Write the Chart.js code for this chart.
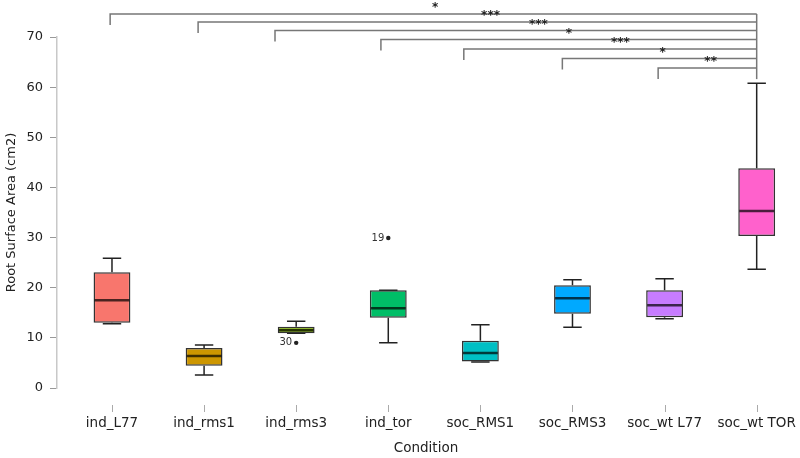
<!DOCTYPE html>
<html>
<head>
<meta charset="utf-8">
<script src="https://cdn.jsdelivr.net/npm/chart.js@4"></script>
<style>
  body { margin: 0; background: #fff; }
  #wrap { width: 800px; height: 458px; position: relative; }
</style>
</head>
<body>
<div id="wrap"><canvas id="rootChart"></canvas></div>
<script>
// Root surface area per condition (box plot values)
const categories = ["ind_L77", "ind_rms1", "ind_rms3", "ind_tor", "soc_RMS1", "soc_RMS3", "soc_wt L77", "soc_wt TOR"];
const whiskerLow = [12.8, 2.6, 10.9, 9.0, 5.2, 12.1, 13.8, 23.7];
const q1 = [13.0, 4.45, 10.9, 14.0, 5.3, 14.8, 14.1, 30.3];
const medians = [17.5, 6.4, 11.5, 15.9, 7.0, 17.9, 16.5, 35.3];
const q3 = [23.1, 8.0, 12.2, 19.5, 9.4, 20.5, 19.5, 43.8];
const whiskerHigh = [25.9, 8.6, 13.3, 19.5, 12.6, 21.6, 21.8, 60.8];
const boxColors = ["#F8766D", "#CD9600", "#7CAE00", "#00BE67", "#00BFC4", "#00A9FF", "#C77CFF", "#FF61CC"];

// Outliers
const outlierX = [2, 3];
const outlierY = [9.0, 29.9];
const outlierLabels = ["30", "19"];

// Significance brackets (all against soc_wt TOR)
const bracketFrom = [-0.02, 0.935, 1.77, 2.92, 3.82, 4.89, 5.93];
const bracketTo = 7;
const bracketLevel = [74.6, 73.0, 71.3, 69.5, 67.6, 65.7, 63.8];
const bracketStars = ["*", "***", "***", "*", "***", "*", "**"];
const starX = [3.51, 4.11, 4.63, 4.96, 5.52, 5.98, 6.5];
const bracketBottom = 61.6;

const yTicks = [0, 10, 20, 30, 40, 50, 60, 70];

const FONT = "'DejaVu Sans', sans-serif";

// Whiskers, medians, outlier labels, brackets and x tick marks
const boxExtras = {
  id: "boxExtras",
  beforeDatasetsDraw(chart) {
    const { ctx, scales: { x, y } } = chart;
    const bars = chart.getDatasetMeta(0).data;
    ctx.save();
    ctx.strokeStyle = "#222";
    ctx.lineWidth = 1.5;
    categories.forEach((c, i) => {
      const cx = x.getPixelForValue(i);
      const capHalf = bars[i].width / 4;
      ctx.beginPath();
      ctx.moveTo(cx, y.getPixelForValue(q3[i]));
      ctx.lineTo(cx, y.getPixelForValue(whiskerHigh[i]));
      ctx.moveTo(cx, y.getPixelForValue(q1[i]));
      ctx.lineTo(cx, y.getPixelForValue(whiskerLow[i]));
      ctx.moveTo(cx - capHalf, y.getPixelForValue(whiskerHigh[i]));
      ctx.lineTo(cx + capHalf, y.getPixelForValue(whiskerHigh[i]));
      ctx.moveTo(cx - capHalf, y.getPixelForValue(whiskerLow[i]));
      ctx.lineTo(cx + capHalf, y.getPixelForValue(whiskerLow[i]));
      ctx.stroke();
    });
    ctx.restore();
  },
  afterDatasetsDraw(chart) {
    const { ctx, chartArea, scales: { x, y } } = chart;
    const bars = chart.getDatasetMeta(0).data;
    ctx.save();

    // medians
    ctx.strokeStyle = "rgba(0,0,0,0.7)";
    ctx.lineWidth = 2.5;
    categories.forEach((c, i) => {
      const cx = x.getPixelForValue(i);
      const half = bars[i].width / 2;
      const my = y.getPixelForValue(medians[i]);
      ctx.beginPath();
      ctx.moveTo(cx - half + 1, my);
      ctx.lineTo(cx + half - 1, my);
      ctx.stroke();
    });

    // outlier labels
    ctx.fillStyle = "#333";
    ctx.font = "10px " + FONT;
    ctx.textAlign = "right";
    ctx.textBaseline = "middle";
    outlierX.forEach((ox, i) => {
      ctx.fillText(outlierLabels[i], x.getPixelForValue(ox) - 4, y.getPixelForValue(outlierY[i]));
    });

    // significance brackets
    ctx.strokeStyle = "#777";
    ctx.lineWidth = 1.5;
    const rightX = x.getPixelForValue(bracketTo);
    ctx.beginPath();
    ctx.moveTo(rightX, y.getPixelForValue(bracketLevel[0]));
    ctx.lineTo(rightX, y.getPixelForValue(bracketBottom));
    ctx.stroke();
    ctx.fillStyle = "#222";
    ctx.font = "bold 12px " + FONT;
    ctx.textAlign = "center";
    ctx.textBaseline = "middle";
    bracketFrom.forEach((from, i) => {
      const ly = y.getPixelForValue(bracketLevel[i]);
      const lx = x.getPixelForValue(from);
      ctx.beginPath();
      ctx.moveTo(lx, ly + 11);
      ctx.lineTo(lx, ly);
      ctx.lineTo(rightX, ly);
      ctx.stroke();
      ctx.fillText(bracketStars[i], x.getPixelForValue(starX[i]), ly - 6);
    });

    // x tick marks, detached from the plot area
    ctx.strokeStyle = "#aaa";
    ctx.lineWidth = 1;
    categories.forEach((c, i) => {
      const tx = Math.round(x.getPixelForValue(i)) + 0.5;
      ctx.beginPath();
      ctx.moveTo(tx, chartArea.bottom + 17);
      ctx.lineTo(tx, chartArea.bottom + 24);
      ctx.stroke();
    });
    ctx.restore();
  },
};

const createChart = () => {
  const ctx = document.getElementById("rootChart").getContext("2d");
  return new Chart(ctx, {
    type: "bar",
    data: {
      datasets: [
        {
          data: categories.map((c, i) => ({ x: i, y: [q1[i], q3[i]] })),
          backgroundColor: boxColors,
          borderColor: "#333",
          borderWidth: 1.5,
          borderSkipped: false,
          barPercentage: 0.5,
          categoryPercentage: 0.8,
        },
        {
          type: "scatter",
          data: outlierX.map((ox, i) => ({ x: ox, y: outlierY[i] })),
          pointRadius: 2.2,
          pointBackgroundColor: "#222",
          pointBorderWidth: 0,
        },
      ],
    },
    options: {
      responsive: true,
      maintainAspectRatio: false,
      animation: false,
      layout: { padding: { top: 37, left: 0, right: 5, bottom: 0 } },
      plugins: {
        legend: { display: false },
        tooltip: { enabled: false },
      },
      scales: {
        x: {
          type: "linear",
          offset: false,
          min: -0.597,
          max: 7.416,
          grid: { display: false, offset: false },
          border: { display: false },
          afterBuildTicks: (scale) => {
            scale.ticks = categories.map((c, i) => ({ value: i }));
          },
          afterFit: (scale) => {
            scale.height = 70;
            scale.paddingLeft = 0;
            scale.paddingRight = 0;
          },
          ticks: {
            autoSkip: false,
            maxRotation: 0,
            padding: 19,
            color: "#222",
            font: { family: FONT, size: 13.5 },
            callback: (v) => categories[v],
          },
          title: {
            display: true,
            text: "Condition",
            color: "#222",
            font: { family: FONT, size: 13.5 },
            padding: { top: 4, bottom: 1 },
          },
        },
        y: {
          min: 0,
          max: 70,
          afterBuildTicks: (scale) => {
            scale.ticks = yTicks.map((v) => ({ value: v }));
          },
          afterFit: (scale) => {
            scale.width = 57;
          },
          grid: {
            drawOnChartArea: false,
            drawTicks: true,
            tickLength: 7,
            color: "#999",
          },
          border: { display: true, color: "#c8c8c8", width: 1.5 },
          ticks: {
            padding: 7,
            color: "#222",
            font: { family: FONT, size: 13 },
          },
          title: {
            display: true,
            text: "Root Surface Area (cm2)",
            color: "#222",
            font: { family: FONT, size: 13 },
            padding: { top: 4, bottom: 4 },
          },
        },
      },
    },
    plugins: [boxExtras],
  });
};

document.addEventListener("DOMContentLoaded", () => {
  createChart();
});
</script>
</body>
</html>
